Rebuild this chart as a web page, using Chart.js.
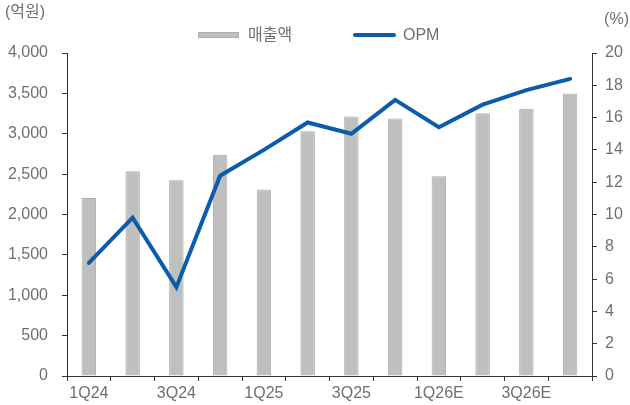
<!DOCTYPE html>
<html>
<head>
<meta charset="utf-8">
<script src="https://cdn.jsdelivr.net/npm/chart.js@4/dist/chart.umd.min.js"></script>
<style>
  html, body { margin: 0; padding: 0; background: #fff; }
  #wrap { width: 630px; height: 405px; }
</style>
</head>
<body>
<div id="wrap"><canvas id="myChart" width="630" height="405"></canvas></div>
<script>
const quarters = ["1Q24", "2Q24", "3Q24", "4Q24", "1Q25", "2Q25", "3Q25", "4Q25", "1Q26E", "2Q26E", "3Q26E", "4Q26E"];
const sales = [2205, 2535, 2425, 2740, 2310, 3030, 3215, 3190, 2475, 3255, 3310, 3500];
const opm = [7.0, 9.8, 5.5, 12.4, 14.0, 15.7, 15.0, 17.1, 15.4, 16.8, 17.7, 18.4];
const leftTicks = [0, 500, 1000, 1500, 2000, 2500, 3000, 3500, 4000];
const rightTicks = [0, 2, 4, 6, 8, 10, 12, 14, 16, 18, 20];

const font = "'Liberation Sans', 'Noto Sans CJK KR', sans-serif";
const textColor = "#6f6f6f";
const axisColor = "#333333";
const barColor = "#bfbfbf";
const lineColor = "#0c5caa";

// legend and unit labels
const extras = {
  id: "extras",
  afterDraw(chart) {
    const c = chart.ctx;
    c.save();
    c.font = "16px " + font;
    c.fillStyle = textColor;
    c.textBaseline = "middle";
    c.textAlign = "left";
    c.fillText("(억원)", 5, 13);
    c.textAlign = "right";
    c.fillText("(%)", 629, 20);
    c.textAlign = "left";
    // bar legend
    c.fillStyle = barColor;
    c.fillRect(198, 32, 41, 6);
    c.strokeStyle = "#adadad";
    c.lineWidth = 1;
    c.strokeRect(198.5, 32.5, 40, 5);
    c.fillStyle = textColor;
    c.fillText("매출액", 248, 36);
    // line legend
    c.strokeStyle = lineColor;
    c.lineWidth = 4;
    c.lineCap = "round";
    c.beginPath();
    c.moveTo(355, 35);
    c.lineTo(394, 35);
    c.stroke();
    c.fillText("OPM", 403, 36);
    c.restore();
  },
};

const ctx = document.getElementById("myChart").getContext("2d");
new Chart(ctx, {
  type: "bar",
  data: {
    labels: quarters,
    datasets: [
      {
        type: "line",
        label: "OPM",
        data: opm,
        yAxisID: "y1",
        borderColor: lineColor,
        backgroundColor: lineColor,
        borderWidth: 4,
        pointRadius: 0,
        tension: 0,
        borderCapStyle: "round",
        order: 0,
      },
      {
        type: "bar",
        label: "매출액",
        data: sales,
        yAxisID: "y",
        backgroundColor: barColor,
        borderColor: "#adadad",
        borderWidth: 1,
        barPercentage: 0.33,
        categoryPercentage: 1,
        order: 1,
      },
    ],
  },
  options: {
    responsive: false,
    animation: false,
    layout: { padding: { top: 53, left: 0, right: 0, bottom: 0 } },
    plugins: {
      legend: { display: false },
      tooltip: { enabled: false },
    },
    scales: {
      x: {
        offset: true,
        grid: { offset: true, drawOnChartArea: false, drawTicks: true, tickLength: 5, color: axisColor },
        border: { color: axisColor, width: 1 },
        ticks: {
          autoSkip: false,
          maxRotation: 0,
          padding: 3,
          color: textColor,
          font: { family: font, size: 16 },
          callback: (v, i) => (i % 2 === 0 ? quarters[i] : ""),
        },
        afterFit: (s) => { s.height = 29; },
      },
      y: {
        position: "left",
        min: 0,
        max: 4000,
        afterBuildTicks: (s) => { s.ticks = leftTicks.map((v) => ({ value: v })); },
        grid: { drawOnChartArea: false, drawTicks: true, tickLength: 5, color: axisColor },
        border: { color: axisColor, width: 1 },
        ticks: {
          padding: 14,
          color: textColor,
          font: { family: font, size: 16 },
          callback: (v) => v.toLocaleString("en-US"),
        },
        afterFit: (s) => { s.width = 67; },
      },
      y1: {
        position: "right",
        min: 0,
        max: 20,
        afterBuildTicks: (s) => { s.ticks = rightTicks.map((v) => ({ value: v })); },
        grid: { drawOnChartArea: false, drawTicks: true, tickLength: 5, color: axisColor },
        border: { color: axisColor, width: 1 },
        ticks: {
          padding: 8,
          color: textColor,
          font: { family: font, size: 16 },
        },
        afterFit: (s) => { s.width = 38; },
      },
    },
  },
  plugins: [extras],
});
</script>
</body>
</html>
